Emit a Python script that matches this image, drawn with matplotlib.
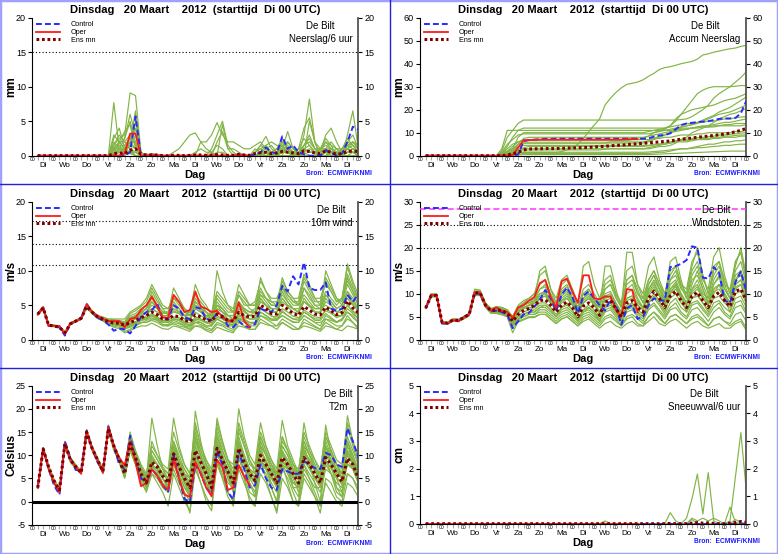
import numpy as np
import matplotlib.pyplot as plt
from matplotlib.lines import Line2D
from matplotlib.patches import Rectangle
import matplotlib.transforms as mtransforms

plt.rcParams['font.family'] = ['Liberation Sans', 'DejaVu Sans']


def series(txt):
    # 6-hourly values, one group of 4 per day: 06, 12, 18, 00 UTC
    return np.array(txt.replace('|', ' ').split(), dtype=float)


hours = np.arange(6, 361, 6)
days = hours / 24.0
day_names = ['Di', 'Wo', 'Do', 'Vr', 'Za', 'Zo', 'Ma', 'Di', 'Wo', 'Do', 'Vr', 'Za', 'Zo', 'Ma', 'Di']
title = 'Dinsdag   20 Maart    2012  (starttijd  Di 00 UTC)'

# ---------------- Neerslag / 6 uur ----------------
precip_oper = "0 0 0 0|0 0 0 0|0 0 0 0|0 0 0 0|0.3 3.2 3.2 0|0 0.2 0.1 0|0 0 0 0|0 0 0 0|0 0 0 0|0 0.2 0.1 0"
precip_control = "0 0 0 0|0 0 0 0|0 0 0 0|0 0 0 0|0 0.5 5.7 0|0 0.1 0.1 0|0 0 0 0|0 0 0 0|0 0 0 0|0 0 0 0|0.2 0.5 1.2 0.5|0.3 2.8 1 1.5|0.5 0.2 0 0|0 0.8 0.4 0|0.3 2 4.2 3.8"
precip_mean = "0 0 0 0|0 0 0 0|0 0 0 0|0 0 0.3 0.4|0.3 0.8 1 0.2|0.1 0.1 0.1 0|0 0.05 0.05 0|0.05 0.1 0.1 0.05|0.1 0.15 0.1 0.05|0.05 0.2 0.1 0.05|0.3 0.4 0.5 0.3|0.4 0.6 0.5 0.4|0.3 0.7 0.6 0.4|0.3 0.7 0.5 0.2|0.3 0.6 0.7 0.6"
precip_members = [
    "0 0 0 0|0 0 0 0|0 0 0 0|0 0 7.7 1|0.5 0.3 0 0|0 0 0 0|0 0 0 0|0 0 0 0|0 0 0 0|0 0 0 0|0 0.5 1 0|0 0 2 1|0.5 0 0 0|0 1 0.5 0|0 0.5 1 0.5",
    "0 0 0 0|0 0 0 0|0 0 0 0|0 0 1.5 2.5|3 9.1 8.7 0.5|0 0.2 0 0|0 0 0 0|0 0 0 0|0 0 0 0|0 0 0 0|0 0 0 0.5|1 2.5 1 0|0 0 0 0|0 0 0.5 1|0 1.5 2 1",
    "0 0 0 0|0 0 0 0|0 0 0 0|0 0 0 0.5|1 0.5 0 0|0 0 0 0|0 0.5 1 2|3 3.3 2 2|3 4.8 3 2|2 1.5 1 1|1.5 2 1 1.5|0.5 0.5 0.5 0|1 1 0.5 0.5|0.5 1 1 0.5|0.5 1 0.5 0",
    "0 0 0 0|0 0 0 0|0 0 0 0|0 0 2 1|2.5 6 3 0|0 0 0 0|0 0 0 0|0 0 0 0|0 0 4.5 1|0 0 0 0|0 0 0 0|0 0 0 0|0 3 8.2 2|0 0 1 0|0 0.5 0.5 0",
    "0 0 0 0|0 0 0 0|0 0 0 0|0 0 0.5 1|1.5 2.5 2 0|0.3 0 0 0|0 0 0 0|0 0 0 0|0 0 0 0|0 0 0 0|0 0 0 0|0 1 3.5 1|0.5 0 5 2|0 0.5 0 0|0 3 6.5 1",
    "0 0 0 0|0 0 0 0|0 0 0 0|0 0 1 2|1 1.5 1 0|0 0 0 0|0 0 0 0|0 0 0 0|0 0 0 0|0 0 0 0|0.5 1.5 2.8 1|0.5 1 0.5 0|0 0 0 0|0.5 3 4 2|0.5 1 0.5 0.5",
    "0 0 0 0|0 0 0 0|0 0 0 0|0 0 0 0|0.5 1.5 5 0|0 0 0 0|0 0 0 0|0 0 0 0|1 3 5 1.5|0.5 0 0 0|0 0 0 0|0 0.5 1 0|0 1.5 3 1|0 1 0 0|0.5 2 3 1",
    "0 0 0 0|0 0 0 0|0 0 0 0|0 0 2.5 4|1 0.5 0 0|0 0.3 0 0|0 0 0 0|0 0 0 0|0 0 0 0|0 0 0 0|1 0.5 0 0|0 2 1 0|0 0 0 0|1 2.5 1.5 0|0 0 0 0",
    "0 0 0 0|0 0 0 0|0 0 0 0|0 0 0 0|0 0.5 0.5 0|0 0 0 0|0 0 0 0|0 0 0 0|0 0 0 0|0 0 0 0|0 0.3 0.5 0|0 0 0 0|0.5 0.5 0 0|0 0.5 1 0.5|0 0 0.5 0.3",
    "0 0 0 0|0 0 0 0|0 0 0 0|0 0 1 0.5|0.5 2 6.5 0|0 0 0 0|0 0 0 0|0 0 2 1|0.5 0 0 0|0 0 0 0|0 0 0 0|0.5 1 1.5 0.5|1 4 5.5 2|1 1 0.5 0|1 2.5 1.5 1",
    "0 0 0 0|0 0 0 0|0 0 0 0|0 0 3 2|2 3 1.5 0|0 0 0 0|0 0 0 0|0 0 0 0|0 0 0 0|0 0 0 0|0 0 0 0|0 0 0 0|0 0 0 0|0 0 0 0|0 0 0 0",
    "0 0 0 0|0 0 0 0|0 0 0 0|0 0 1.5 3|2 1 0 0|0 0 0 0|0 0 0 0|0 0 0 0|0 2 3.5 1|1 0.5 0 0|0.5 1.5 1 0.5|0.5 1 0.5 0.5|0.5 1 0.5 0.5|0.5 0.8 0.5 0.3|0 1 0.5 0",
    "0 0 0 0|0 0 0 0|0 0 0 0|0 0 0.8 1.5|1.5 1 0.5 0|0 0 0 0|0 0 0 0|0 0.5 1 0.5|0.5 1.5 1 0|0 0 0 0|0 0 0.5 0.5|1 1.5 0.5 0|0.5 1.5 2 1|0.5 1 0.5 0|0.5 1.5 2 1.5",
    "0 0 0 0|0 0 0 0|0 0 0 0|0 0 0.5 2|3.5 4.5 1 0|0 0 0 0|0 0 0 0|0 0 0 0|0 0 0 0|0 0 0.2 0|0.5 1 1.5 0.5|1 2 1 0.5|1 2.5 1.5 0.5|0 0.5 0.5 0|1 2 1.5 0.5",
    "0 0 0 0|0 0 0 0|0 0 0 0|0 0 0.3 0.8|1 2 1 0|0 0 0 0|0 0 0 0|0 0 0 0|0 0 0 0|0 0 0 0|0 0.5 1.5 2|1.5 1 0.5 0|0 0.5 1 0.5|0.5 2 1.5 1|0.5 1 2 1",
    "0 0 0 0|0 0 0 0|0 0 0 0|0 0 1.2 1.8|2.5 5 2 0|0 0 0 0|0 0 0 0|0 0 0 0|0 0 0 0|0 0 0 0|0 0 0 0|0 0.5 1 0.5|0.5 1 1.5 0.5|1 2 1 0.5|0 0.5 1 0.5",
    "0 0 0 0|0 0 0 0|0 0 0 0|0 0 0.2 0.5|0.8 1.5 4 0.5|0 0 0 0|0 0 0 0|0 0 0 0|0 0 0 0|0 0 0 0|0.5 1 0.5 0|0.5 0.5 0.5 0|0.5 1.5 2.5 1|1 1.5 1 0.5|0.5 1 1.5 0.5",
    "0 0 0 0|0 0 0 0|0 0 0 0|0 0 1 1|1 2 2 0|0 0 0 0|0 0 0 0|0 0 0 0|0 0.5 0.5 0|0 0 0 0|0 0.5 0.5 0|0.5 1.5 2 1|0.5 1 0.5 0.5|0 1 2 1|1 1.5 1 0.5",
]

# ---------------- Accum neerslag ----------------
accum_oper = "0 0 0 0|0 0 0 0|0 0 0 0|0 0 0 0|0.3 3.5 6.7 6.8|6.9 7 7 7|7 7 7 7|7 7 7 7|7 7 7 7|7 7.2 7.2 7.2"
accum_control = "0 0 0 0|0 0 0 0|0 0 0 0|0 0 0 0|0 0.5 6.3 6.8|7 7.2 7.3 7.3|7.4 7.4 7.4 7.4|7.4 7.4 7.4 7.4|7.4 7.4 7.4 7.4|7.4 7.4 7.4 7.4|7.4 7.5 8.3 8.8|9 9.7 11.5 13.3|14 14.3 14.6 14.8|15 15.5 16 16.2|16.2 16.4 18.5 23.8"
accum_mean = "0 0 0 0|0 0 0 0|0 0 0 0|0 0 0 0.3|0.8 1.5 2.5 2.9|3 3 3.1 3.1|3.1 3.2 3.3 3.4|3.4 3.5 3.6 3.8|3.9 4.1 4.3 4.5|4.6 4.8 5 5.2|5.4 5.6 5.8 6|6.2 6.4 6.8 7.2|7.4 7.7 8 8.3|8.5 8.8 9.1 9.4|9.8 10.4 11 11.9"
accum_members = [
    "0 0 0 0|0 0 0 0|0 0 0 0|0 0 0 0.3|0.8 1.5 1.5 1.5|1.5 1.5 1.5 1.5|1.5 1.8 2.5 3.5|5 7.5 10.5 13.3|16 22 25 27.5|29.5 31 31.5 32|33 34.5 35.8 37.5|38.3 38.7 39.3 40|40.5 41 42 43.8|44.3 45 45.5 46|46.5 46.8 47.5 48",
    "0 0 0 0|0 0 0 0|0 0 0 0|0 0 2 8|11 14 15.5 15.5|15.5 15.5 15.5 15.5|15.5 15.5 15.5 15.5|15.5 15.5 15.5 15.5|15.5 15.5 15.5 15.5|15.5 15.5 15.5 15.5|15.5 15.5 15.5 15.5|15.5 15.5 15.5 15.7|16 17 18.5 20|22 25 27 28.5|30 32 34 36.5",
    "0 0 0 0|0 0 0 0|0 0 0 0|0 0 0.5 1.5|3 8 10 10|10 10 10 10|10 10 10 10|10 10 10 10|10 10 10 10|10 10 10 10|10 10.5 11 11.5|12 13 15 18|21 24 27 28.5|29.5 30 30 30|30 30.2 30.5 30.5",
    "0 0 0 0|0 0 0 0|0 0 0 0|0 0 1 3|5 6 6.5 6.5|6.5 6.5 6.5 6.5|6.5 6.5 6.5 6.5|6.5 6.5 6.5 6.5|6.5 6.5 6.5 6.5|6.5 6.5 7 7|7.5 8.5 10 11|11.5 13 16 18|19 20 20.5 21|21.5 22 23 24|24.5 25 26 27",
    "0 0 0 0|0 0 0 0|0 0 0 0|0 0 0.5 0.8|1.5 3.5 5.5 5.5|5.5 5.5 5.5 5.5|5.5 5.5 5.5 5.5|5.5 5.5 5.5 5.5|5.5 5.5 5.5 5.5|5.5 5.5 5.5 5.5|5.5 6 7 8|9 10 11 12.5|13 13.5 14 15|16 17 18 18.5|19 20 21 22",
    "0 0 0 0|0 0 0 0|0 0 0 0|0 0 1 4|8 11 12 12|12 12 12 12|12 12 12 12|12 12 12 12|12 12 12 12|12 12 12 12|12 12 12 12|12 12.5 13 13.5|14 14 14.5 14.5|15 15 15.5 16|16 16.5 16.8 17",
    "0 0 0 0|0 0 0 0|0 0 0 0|0 0 0.3 0.8|2 5 7.5 8|8 8 8 8|8 8 8 8|8 8 8 8|8 8 8 8|8 8 8 8|8 8.5 9 9.5|10 10.5 11 11.5|11.5 12 12 12.5|12.5 13 13 13.5|13.5 14 14 14",
    "0 0 0 0|0 0 0 0|0 0 0 0|0 0 0 0.5|1 2.5 3.5 4|4 4 4 4|4 4 4 4|4 4 4 4|4 4 4 4|4 4 4 4|4 4.3 4.6 5|5.5 6 6.5 7|7.2 7.5 7.8 8|8.3 8.5 9 9|9.3 9.5 9.8 10",
    "0 0 0 0|0 0 0 0|0 0 0 0|0 0 0 0.2|0.5 1 1.5 1.5|1.5 1.5 1.5 1.5|1.5 1.5 1.5 1.5|1.5 1.5 1.5 1.5|1.5 1.5 1.5 1.5|1.5 1.5 1.5 1.5|1.5 1.6 1.8 2|2.2 2.5 2.8 3|3 3.2 3.5 3.5|3.8 4 4.2 4.5|4.5 4.8 5 5",
    "0 0 0 0|0 0 0 0|0 0 0 0|0 0 0 0|0.1 0.3 0.5 0.5|0.5 0.5 0.5 0.5|0.5 0.5 0.5 0.5|0.5 0.5 0.5 0.5|0.5 0.5 0.5 0.5|0.5 0.5 0.5 0.5|0.5 0.5 0.6 0.7|0.8 0.9 1 1.1|1.2 1.3 1.4 1.5|1.6 1.7 1.8 1.9|2 2 2 2",
    "0 0 0 0|0 0 0 0|0 0 0 0|0 0 3 11|11 11 11 11|11 11 11 11|11 11 11 11|11 11 11 11|11 11 11 11|11 11 11 11|11 11 11 11|11 11 11.5 12|12 12 12.5 12.5|12.5 12.5 13 13|13 13 13 13.5",
    "0 0 0 0|0 0 0 0|0 0 0 0|0 0 0.5 1|1.5 2.5 3 3|3 3 3 3|3 3 3 3|3 3 3 3|3 3 3 3|3 3 3 3|3 3 3.5 4|4 4.5 5.5 7|8 10 11 12|13 14.5 16 17|18 18.5 19.5 20.5",
    "0 0 0 0|0 0 0 0|0 0 0 0|0 0 0.2 0.5|1 2 2.5 2.5|2.5 2.5 2.5 2.5|2.5 2.5 2.5 2.5|2.5 2.5 2.5 2.5|2.5 2.8 3 3|3 3 3 3|3 3.5 4 4.5|5 5.5 6 6.5|6.5 7 7 7.5|7.5 8 8 8.5|8.5 8.8 9 9",
    "0 0 0 0|0 0 0 0|0 0 0 0|0 0 0.5 2|4 6 7 7|7 7 7 7|7 7 7 7|7 7 7 7|7 7 7 7|7 7 7 7|7 7 7.5 7.5|8 8 8.5 9|9 9 9.5 9.5|10 10 10 10|10 10.5 10.5 11",
    "0 0 0 0|0 0 0 0|0 0 0 0|0 0 1 2|3 5 5.5 5.5|5.5 5.5 5.5 5.5|5.5 5.5 5.5 5.5|5.5 5.5 5.5 5.5|5.5 5.5 6 6|6 6 6 6|6 6.5 7.5 8.5|9 10 10.5 11|11.5 12 12.5 13|13 13.5 14 14.5|14.5 15 15.5 16",
    "0 0 0 0|0 0 0 0|0 0 0 0|0 0 0.5 1.5|2.5 4 4.5 4.5|4.5 4.5 4.5 4.5|4.5 4.5 4.5 4.5|4.5 4.5 4.5 4.5|4.5 4.5 4.5 4.5|4.5 4.5 4.5 4.5|4.5 4.5 5 5|5 5.5 6 6|6 6.5 7 7|7 7.5 7.5 8|8 8 8.5 8.5",
    "0 0 0 0|0 0 0 0|0 0 0 0|0 0 1.5 5|7 9 9.5 9.5|9.5 9.5 9.5 9.5|9.5 9.5 9.5 9.5|9.5 9.5 9.5 9.5|9.5 9.5 9.5 9.5|9.5 9.5 9.5 9.5|9.5 9.5 10 10.5|11 11.5 12 12.5|13 13.5 14.5 15.5|16.5 17.5 19 20|21 22.5 24 25.5",
    "0 0 0 0|0 0 0 0|0 0 0 0|0 0 0 0|0.2 0.5 1 1|1 1 1 1|1 1 1 1|1 1 1 1|1 1 1 1|1 1 1 1|1 1 1.2 1.5|1.5 2 2.5 3|3 3.5 4 4.5|5 5 5.5 6|6 6.5 6.5 7",
]

# ---------------- 10m wind ----------------
wind_oper = "3.7 4.7 2 2|2 0.8 2.4 2.7|3 5.1 4 3.5|3 2.7 2.7 2.7|1.8 3 3.2 4.3|5 6.2 4.8 3.2|3.2 6.5 5.5 4|4.3 7 4.8 4.5|4 4.2 3.3 2.7|2.8 5.4 2.7 1.8"
wind_control = "3.7 4.7 2 2|1.8 0.6 2.3 2.7|3.2 5.2 4 3.2|2.8 2.2 1.3 1.6|1.5 0.9 2 3.3|4 4.3 5.2 3|3 5 4.5 3.2|3 4.7 4.5 3|2.8 3.8 3.5 2|1.8 2.7 2 1.8|2.3 4.5 4.2 4|5 7.8 7 9.2|8 11.2 7.5 7.2|7.2 8.3 4.5 4.2|4.5 6.5 5.5 6.6"
wind_mean = "3.7 4.6 2.1 2|1.8 1 2.3 2.7|3.1 4.8 4 3.3|3 2.6 2.4 2.4|2.1 2.5 2.8 3.2|3.5 4 3.6 3|3 3.5 3.3 2.8|2.6 3.6 3.3 2.9|2.7 3.7 3.3 2.8|2.7 4 3.5 3.3|3.4 5 4.5 3.8|3.7 5 4.4 3.8|3.5 4.8 4.3 3.7|3.6 4.7 4.2 3.6|3.9 5.6 4.6 3.9"
wind_members = [
    "3.8 4.8 2.2 2.1|1.9 1.2 2.4 2.8|3.2 5.3 4.2 3.4|3.2 2.8 2.6 2.5|2.5 3.5 3.8 4.5|5 6.5 5 4|4 5 4.5 3.5|3 5.5 4.5 4|3.5 6 5 4|4 6.5 5 5|5 7.5 6 5|5 8.5 7 6|6 9.5 8 6|5 7 6 5|6 8.5 7 6",
    "3.6 4.5 2 1.9|1.7 0.9 2.2 2.6|3 4.6 3.8 3.2|2.8 2.4 2.2 2.2|1.8 2 2.3 2.5|2.5 3 2.8 2.2|2 2.5 2.3 2|1.5 2.5 2.2 1.8|1.5 2.5 2.2 1.8|1.5 3 2.5 2|2 3.5 3 2.5|2 3 2.5 2|1.5 3 2.5 2|1.5 2.5 2 1.5|2 3.5 2.5 1.5",
    "3.7 4.7 2.1 2|1.8 1 2.3 2.8|3.1 4.9 4.1 3.4|3.1 2.7 2.5 2.4|2.2 3 3.5 4|4.5 7 5.5 4.5|3.5 6.5 5.5 4|3.5 6 5 4|3 5 4 3.5|3 5.5 4.5 4|4.5 7 6 5|5 9 7 6|5 7.5 6.5 5|5 8.5 7 5.5|6 10.5 8 6",
    "3.7 4.6 2.1 2.1|1.9 1.1 2.3 2.7|3.1 4.7 4 3.3|2.9 2.5 2.3 2.3|1.8 2.2 2.5 2.8|3 3.5 3 2.5|2.5 3 3 2.5|2 3 3 2.5|2.5 4 3.5 3|2.5 4 3.5 3|3 4.5 4 3.5|3 4 3.5 3|3 4 3.5 3|3 4.5 4 3.5|3.5 5 4 3",
    "3.8 4.7 2.1 2|1.8 1 2.2 2.6|3 4.8 4 3.2|3 2.6 2.5 2.6|2.5 3 3.2 3.5|4 5 4.5 3.5|3.5 5 4 3.5|4 8 6 5|3.5 5 4.5 3.5|3 4.5 4 3.5|3.5 5.5 5 4|4 6 5 4.5|4 7.5 6 5|4.5 6.5 5.5 4.5|5 7 6 4.5",
    "3.6 4.6 2 2|1.8 0.9 2.3 2.7|3.1 4.7 3.9 3.2|2.9 2.5 2.3 2.3|2 2.3 2.5 2.8|3 3.5 3 2.5|2.5 3 2.8 2.2|2 2.5 2.5 2|2 3 2.5 2|2 3.5 3 2.5|2.5 4 3.5 3|3 3.5 3 2.5|2.5 3.5 3 2.5|2 3.5 3 2.5|3 4 3.5 2.5",
    "3.7 4.6 2.1 2|1.8 1 2.3 2.7|3.1 4.8 4 3.3|3 2.6 2.4 2.4|2.1 2.6 3 3.5|4 5.5 4.5 3.5|3 5.5 4.5 3.5|3 4 3.5 3|3 10 7 5|4 5.5 4.5 4|4 6 5 4|4 7 5.5 4.5|4 6 5 4|4 6 5 4|4 7 5.5 4.5",
    "3.7 4.5 2.1 2|1.8 1 2.4 2.7|3.1 4.7 3.9 3.3|3 2.6 2.4 2.4|2.1 2.4 2.6 2.9|3.2 3.8 3.3 2.8|2.8 3.3 3.2 2.7|2.4 3.3 3 2.6|2.4 3.2 3 2.5|2.4 3.7 3.2 3|3 4.5 4 3.4|3.3 4.5 4 3.4|3.2 4.3 3.8 3.3|3.2 4.2 3.8 3.2|3.5 5 4.2 3.5",
    "3.7 4.8 2.2 2|1.8 1.1 2.3 2.7|3.2 5 4.1 3.4|3.1 2.7 2.5 2.4|2.2 2.8 3.2 3.8|4.5 6 5 4|4 7.5 6 4.5|3.5 5 4.5 3.5|3 4.5 4 3.5|3.5 6.5 5.5 4.5|4 9 7 5.5|5 6.5 5.5 4.5|4 5.5 5 4|4 10 8 6|5 9 7 5",
    "3.6 4.6 2.1 2|1.8 1 2.3 2.7|3 4.7 3.9 3.2|2.8 2.3 2.1 2.1|1.6 1.8 2.2 2.5|2.5 2.8 2.5 2|2 2.3 2 1.8|1.5 2 2 1.5|1.3 2.2 2 1.5|1.2 2 1.8 1.5|1.5 2.5 2.2 2|2 2.5 2 1.5|1.5 2 1.8 1.5|1.2 2 1.8 1.5|1.3 2 1.8 1.5",
    "3.7 4.7 2.1 2|1.8 1 2.3 2.7|3.1 4.8 4 3.3|3 2.8 2.8 2.7|2.5 3.2 3.5 3.8|4 4.5 4 3.5|3.5 4 3.8 3|3 4.5 4 3.5|3.5 5 4.5 3.5|3.5 5 4.5 4|4 5.5 5 4.5|4.5 6 5 4.5|4.5 5.5 5 4.5|4.5 5 4.5 4|4.5 6 5 4.5",
    "3.7 4.6 2.1 2|1.8 1 2.3 2.7|3.1 4.7 4 3.3|3 2.5 2.3 2.3|2 2.3 2.6 3|3.2 3.6 3.2 2.6|2.6 3 2.8 2.4|2.2 3 2.8 2.4|2.2 3 2.6 2.2|2.2 3 2.8 2.5|2.5 3.5 3.2 2.8|2.8 3.5 3 2.6|2.5 3.5 3 2.5|2.5 3 2.8 2.5|2.8 4 3.2 2.5",
    "3.8 4.7 2.2 2.1|1.9 1.1 2.4 2.8|3.2 5 4.1 3.4|3.2 3 2.9 2.8|2.6 3.8 4.2 4.8|5.5 7.5 6 4.5|4.5 6 5 4|4 6.5 5.5 4.5|4 7 6 5|4.5 8 6.5 5|5 6.5 6 5.5|5.5 7.5 6.5 5.5|5 8.5 7 5.5|5.5 9 7.5 6|5.5 9.5 7.5 6",
    "3.6 4.5 2 1.9|1.7 0.9 2.2 2.6|3 4.6 3.8 3.1|2.8 2.3 2 1.8|1.2 1.5 2 2.4|2.8 3.2 2.8 2.2|2.2 2.8 2.5 2|1.8 2.8 2.5 2|2 3.5 3 2.5|2 3.2 2.8 2.2|2.5 4 3.5 3|2.8 4.2 3.5 3|2.8 4 3.5 2.8|2.8 3.8 3.2 2.6|3 4.5 3.8 3",
    "3.7 4.6 2.1 2|1.8 1 2.3 2.7|3.1 4.8 4 3.3|3 2.7 2.6 2.6|2.4 3.2 3.5 4|4.5 5.5 4.5 3.8|3.8 4.5 4 3.5|3.5 5 4.2 3.5|3.2 5.5 4.5 3.5|3.5 5 4.2 3.5|4 6.5 5.5 4.5|4.5 7.5 6 5|5 6.5 5.5 4.5|4.5 6.5 5.5 4.5|5 8 6.5 5",
    "3.7 4.7 2.1 2|1.8 1 2.3 2.7|3.1 4.9 4 3.3|3 2.5 2.2 2|1.5 2 2.4 2.8|3.5 4.5 4 3.2|3.2 4.2 3.8 3|2.8 4.5 4 3.2|3 4.5 4 3|3 5 4.2 3.5|3.5 6 5 4|4 5.5 4.8 4|3.8 5.5 4.8 4|3.8 5.5 5 4|4 6.5 5.2 4",
    "3.6 4.5 2 2|1.8 0.9 2.2 2.6|3 4.6 3.8 3.1|2.7 2.2 1.8 1.6|1 1.3 1.7 2|2 2.4 2 1.6|1.5 2 1.8 1.5|1.2 2 1.8 1.3|1 1.8 1.5 1.2|1 2.5 2 1.5|1.5 3 2.5 2|1.5 2.5 2 1.5|1.5 2.5 2.2 1.8|1.5 3 2.5 2|2 3 2.5 1.8",
    "3.8 4.8 2.2 2.1|1.9 1.1 2.4 2.8|3.2 5.1 4.2 3.5|3.3 3 3 3|3 4 4.5 5|6 8 6.5 5|4.5 6 5.5 4.5|4 5.5 5 4|3.5 6.5 5.5 4.5|4 7 6 5|5.5 8.5 7 6|6 8 6.5 5.5|5.5 9 7.5 6|6 8 7 5.5|6 11 8.5 6.5",
]

# ---------------- Windstoten ----------------
gust_oper = "7 9.7 9.7 3.8|3.5 4.3 4 4.8|5.5 10.3 10.3 7.5|6.3 7 6.3 6|4.8 7 7.5 8.5|9.3 12.3 13 9.3|7 12.7 13.3 10.5|8 14 14 9|8.8 9.4 9.4 6.5|5 11 10.8 6"
gust_control = "6.8 9.5 9.5 3.5|3.5 4.2 4 5|5.5 10 10 7.5|6.2 6.3 6 5.5|2.5 4 5.5 5.8|7.2 8.7 10.8 9|6.3 9.8 11.3 9.3|5.8 9.5 10.5 9|7.5 6.3 8.8 7.5|3.3 6.8 7.5 4.5|5 7.5 9 8.5|8.5 15.8 16 16.5|17.3 20.3 20 13.5|13.3 15.8 14.5 8.5|8 12.5 14.8 10.5"
gust_mean = "6.9 9.6 9.6 3.8|3.6 4.3 4.2 4.8|5.5 10.2 10.2 7.5|6.3 6.5 6.3 5.8|4 5.5 6.3 6.8|7.5 8.5 8.7 7.5|6 7.5 8.2 7|5 7.3 8 7|5.3 8.2 8.5 6.8|5 8 8.5 7|6 9 10.5 9|7 9.5 10.5 8.5|7 9.5 10.3 8.5|7 9.5 10.3 8.5|7.2 10.5 11 8.5"
gust_members = [
    "7 10 10 4|3.8 4.5 4.3 5|5.8 11 10.8 8|6.8 7.2 7 6.5|5 7 8 9|10 12 13 10|8 11 12 9|7 10 11 9|8 12 13 10|8 12 13 10|9 13 15 12|10 14 16 12|11 17 19 14|10 14 16 12|11 17 19 13",
    "6.8 9.3 9.3 3.5|3.4 4 4 4.5|5.2 9.6 9.6 7|5.8 6 5.8 5.3|3.5 4.5 5 5.5|5.5 6 6 5|4 5 5.5 4.5|3.5 5 5.5 4.5|3.5 5 5.5 4.5|3 5 5.5 4.5|3.5 5 6 5|3.5 5 5.5 4.5|3.5 4.5 5 4|3 4.5 5 4|3 4 4.5 2.5",
    "6.9 9.7 9.7 3.9|3.6 4.4 4.3 4.9|5.6 10.4 10.4 7.7|6.5 7 6.8 6.2|4.5 6.5 7.5 8|9 11 11.5 9|7 10 11 8.5|6 9 10 8|7 16 16 11|7 11 12 9|7 11 12.5 10|8 12 13 10|8 11 13 10|9 16 17 12|9 14 15 11",
    "6.9 9.5 9.5 3.7|3.5 4.2 4.1 4.7|5.4 10 10 7.3|6 6.2 6 5.5|3.5 5 5.5 6|6.5 7.5 7.5 6.5|5 6.5 7 6|4.5 6.5 7 6|4.5 7 7.5 6|4.5 7 7.5 6|5 8 9 7.5|5.5 8 9 7|6 8 8.5 7|5.5 8 8.5 7|6 9 9.5 7",
    "7 9.8 9.8 4|3.7 4.4 4.2 4.8|5.5 10.3 10.3 7.6|6.4 6.8 6.6 6|4.2 6 7 7.5|8 10 10 8|7 9 10 8|6 9 10 8.5|6 10 10.5 8|6 13 14 10|8 12 14 11|9 17 18 13|9 13 14 11|8 12 14 11|9 13 14 10",
    "6.8 9.5 9.5 3.8|3.6 4.3 4.2 4.8|5.5 10.1 10.1 7.4|6.1 6.3 6.1 5.6|3.8 5 5.5 6|6 7 7 6|5 6 6.5 5.5|4 6 6.5 5.5|4 6.5 7 5.5|4 6.5 7 5.5|4.5 7 8 6.5|5 7 8 6|5 7.5 8 6.5|5 7 8 6|5 8 8.5 6",
    "6.9 9.6 9.6 3.8|3.6 4.3 4.2 4.8|5.5 10.2 10.2 7.5|6.3 6.6 6.4 5.9|4.3 6 7 7.5|8.5 10 10.5 8.5|7 9.5 10.5 8.5|5.5 8 9 8|6 9 9.5 7.5|6 9 9.5 8|7 11 13 11|8 11 12 10|8 12 15 11|8 11 12 10|8 12 13 10",
    "6.9 9.6 9.6 3.8|3.6 4.3 4.2 4.8|5.5 10.2 10.2 7.5|6.2 6.4 6.2 5.7|3.8 5.2 6 6.5|7 8 8 7|5.5 7 7.5 6.5|4.5 6.5 7.5 6.5|5 7.5 8 6.5|4.5 7.5 8 6.5|5.5 8.5 10 8.5|6.5 9 10 8|6.5 9 9.5 8|6.5 9 9.5 8|7 10 10.5 8",
    "6.8 9.4 9.4 3.6|3.4 4.1 4 4.6|5.3 9.8 9.8 7.2|5.8 5.8 5.5 5|1.5 4 4.5 5|5 5.5 5.5 4.5|3.5 4.5 5 4|3 4 4.5 3.5|2.5 3.5 4 3|2.5 3.5 4 3|3 4 5 3.5|3 4 4.5 3.5|2.5 3.5 4 3|2.5 3 3.5 2.5|2.5 3.5 4 2",
    "7 9.7 9.7 3.9|3.7 4.5 4.4 5|5.6 10.5 10.5 7.8|6.6 7 6.8 6.3|4.5 7 8 8.5|9 15 16 11|8 12 13 10|7 11 12 10|8 11 12 9|7 19 19 12|9 13 15 12|9 13 14 11|10 16 20 14|10 15 17 13|10 16 20 14",
    "6.9 9.6 9.6 3.8|3.6 4.3 4.2 4.8|5.5 10.2 10.2 7.5|6.3 6.5 6.3 5.8|3.8 5.8 6.8 7|7 9 9.5 8|6.5 8 9 7.5|5.5 8 9 7.5|5.5 9 9.5 7.5|5.5 9 9.5 7.5|6.5 10 11.5 9.5|7.5 10.5 11.5 9|7.5 10.5 11.5 9|7.5 11 12 9.5|8 12 13 9.5",
    "6.8 9.5 9.5 3.7|3.5 4.2 4.1 4.7|5.4 10 10 7.4|6 6.2 6 5.5|3.2 4.5 5.5 6|6 7 7.5 6.5|5 7 8 6.5|4 6 7 6|4 7 8 6|4 7 8 6|5 8 9.5 8|6 10 12 9|6 9 10 8|6 10 12 9|6 11 12 8",
    "6.9 9.6 9.6 3.9|3.7 4.4 4.3 4.9|5.6 10.3 10.3 7.6|6.5 6.9 6.7 6.2|4.6 6.5 7.5 8|8.5 11 12 9.5|7.5 10.5 11.5 9|6.5 10 11 9|7 11 12 9.5|7 13 14 11|8 12 14 11|8.5 13 15 11.5|9 14 16 12|9 13 15 11|9 15 17 12",
    "6.8 9.5 9.5 3.7|3.5 4.2 4.1 4.7|5.4 10 10 7.3|6 6 5.7 5.2|3 4.3 5 5.5|5.5 6.5 6.5 5.5|4.5 5.5 6 5|4 5.5 6 5|4 6 6.5 5|3.5 6 6.5 5|4 6.5 7.5 6|4.5 6.5 7 5.5|4.5 6.5 7 5.5|4 6 7 5.5|4.5 7 7.5 5.5",
    "7 9.7 9.7 3.9|3.6 4.4 4.3 4.9|5.5 10.3 10.3 7.6|6.4 6.7 6.5 6|4.4 6.2 7 7.5|8 9.5 10 8.5|6.5 8.5 9.5 8|5.5 8.5 9.5 8|6 9.5 10 8|6 10 11 8.5|7 10.5 12 10|7.5 11 12.5 9.5|8 11 12 9.5|8 12 13.5 10|8 13 15 11",
    "7 9.8 9.8 4|3.7 4.5 4.4 5|5.7 10.6 10.6 7.9|6.7 7.2 7 6.5|5 7.5 8.5 9|10 14 15 11|9 13 14 11|8 16 17 12|9 13 14 10|8 15 16 12|10 16 18 13|10 15 16 12|10 15 17 13|11 18 20 14|10 17 19 13",
    "6.8 9.4 9.4 3.6|3.4 4.1 4 4.6|5.3 9.8 9.8 7.1|5.8 5.7 5.4 5|2.5 3.8 4.3 4.8|4.8 5.5 5.5 4.5|3.5 4.5 5 4|3 4.5 5 4|3 4.5 5 4|3 4.5 5 3.5|3 5 6 4.5|3.5 5 5.5 4.5|3.5 5 5.5 4.5|3 4.5 5 4|3.5 5.5 6 4",
    "6.9 9.6 9.6 3.8|3.6 4.3 4.2 4.8|5.5 10.2 10.2 7.5|6.3 6.6 6.4 5.9|4.2 6 7 7.4|8 9 9.5 8|6.5 8.5 9 7.5|5.5 8 9 7.5|6 8.5 9 7|5.5 8.5 9 7.5|6.5 9.5 11 9.5|7.5 10 11 9|7.5 10 11 9|7.5 10.5 11 9|8 11.5 12 9",
]

# ---------------- T2m ----------------
t2m_oper = "3 11.5 7 4|2 12.5 9 7.5|6 15 11.5 9|6.2 16 12 9.5|7.8 13 8.5 3.3|4 7 5.5 3.5|2.6 9.2 5 1.5|1 8.5 6 3|1.2 9 7.5 2.5|3 7.8 5.5 3.5"
t2m_control = "3 11.5 7 3.5|1.5 13 9.5 6.8|6.8 15.3 11.5 8.5|6.5 16.2 12 8|7 14.2 9 5|4 7 5.5 3.5|2 10 5 0.5|0 8 6 3|1.5 11 8 2|0.5 11 7 3|3.5 8 5 3|2.5 7 6.5 6|6 8.8 8 7.2|7 10.5 10 8|7.5 15.8 13 9.5"
t2m_mean = "3 11.3 7.5 4.5|2.5 12.5 9 7.5|6.2 15 11.5 9|6.5 15.8 12 9|6 12.5 9.5 6|4 8.5 7.5 5.5|4 10.3 7.5 5|3 11 8.5 6|3 11.5 9 6.5|4 11.5 8.5 6|4.5 10 8 6|4 9.5 8 6|4 9.5 8 6|4 9.5 8 6|4.3 9.3 8 5"
t2m_members = [
    "3 11.5 7.5 4.5|2.5 13 9.5 8|6.5 15.5 12 9.5|7 16.5 12.5 9.5|7 15 11 8|6 12 10 8|7 18 12 8|6 16 12 9|7 17 13 9|7 15 12 8|7 14 11 8|6 13 11 8|7 14 11 9|7 15 12 9|8 17 13 10",
    "3 11 7 4|2 12 8.5 7|6 14.5 11 8.5|6 15 11 8.5|5 11 8 4|2.5 6 5 3|2 7 4 1.5|-2.5 7 4 1|-1 8 5 2|0 7 4 1|-1 6 4 1|-2.5 5 3 0|-1 5 3 1|-1 4 2 0|-1 4 3 1",
    "3.2 11.2 7.8 4.8|2.7 12.7 9 7.8|6.4 15.2 11.6 9.2|6.8 16 12.2 9.4|6.5 13.5 10 6.5|4 9 8 6|5 12 9 6|4 13 10 7|3 12 9 6|4 14 10 7|6 12 10 7|5 11 9 7|6 12 10 8|5 11 9 7|5 10 8 5",
    "2.8 11 7.2 4.2|2.2 12.3 8.8 7.2|6 14.8 11.3 8.8|6.3 15.5 11.8 8.8|6 12 9 5.5|3 7 6 4|3 9 6 3|1 10 7 4|2 10 8 5|3 9 7 5|3 8 7 5|4 10 8 6|3 8 6 4|2 7 6 3|2 6 5 3",
    "3 11.5 7.6 4.4|2.4 12.8 9.2 7.6|6.2 15.3 11.7 9.1|6.6 16.2 12.1 9.2|6.2 14 10.5 7|5 11 9 7|6 13 10 7|5 14 11 8|6 15 11 8|5 12 9 6|4 10 8 5|3 9 7 4|4 11 9 7|6 13 10 8|7 14 11 8",
    "3.1 11.3 7.4 4.6|2.6 12.4 9 7.4|6.1 15 11.4 9|6.4 15.7 11.9 9|5.8 12.5 9.3 6|3.5 8 7 5|3.5 10 7 4|2 11 8 5|4 13 10 7|5 13 10 7|5 11 9 6|3 8 7 5|2 7 5 3|3 9 7 5|4 11 9 6",
    "3 11.4 7.5 4.5|2.5 12.6 9.1 7.5|6.3 15.1 11.5 9|6.5 15.9 12 9.1|6.3 13 9.8 6.5|5 18 12 7|4 11 8 5|3 19.5 13 8|5 18 13 9|8 20 14 10|8 17 12 9|7 17.5 12 9|6 17 11 8|5 16.5 10 7|6 18.5 13 9",
    "2.9 11.1 7.3 4.3|2.3 12.2 8.7 7.3|6 14.9 11.2 8.9|6.3 15.4 11.7 8.8|5.5 11.5 8.8 5|3 7.5 6.5 4|3 8 5 2|0 9 6 3|1 9 6 2|0 8 5 2|1 8 6 3|0 7 5 2|-1 6 4 1|-2.5 5 4 1|0 6 5 2",
    "3 11.2 7.6 4.6|2.5 12.5 9 7.6|6.2 15 11.5 9.1|6.5 15.8 12 9|6 12.8 9.6 6|4 9 8 6|5 13 9 6|5 15 11 8|4 11 9 6|3 11 8 5|5 13 10 7|6 14 11 8|5 13 10 7|4 12 9 6|5 12 9 6",
    "3 11.3 7.5 4.5|2.4 12.4 8.9 7.4|6.2 15 11.4 9|6.5 15.7 11.9 9|6 12 9 5.5|3.5 7 6 4|2 8 6 3|2 9 7 4|2 12 9 5|2 10 7 4|2 9 7 4|2 8 6 3|3 10 8 5|3 8 6 4|3 8 7 4",
    "3 11.4 7.4 4.4|2.6 12.6 9.1 7.6|6.3 15.2 11.6 9.2|6.6 16 12.1 9.2|6.6 14 10.5 7.5|5 11 9 7|5 12 9 7|5 13 10 7|4 14 11 8|6 16 12 9|6 14 11 8|5 12 10 7|6 13 10 7|5 14 11 8|5 13 10 6",
    "3 11.2 7.4 4.5|2.5 12.4 8.9 7.5|6.1 14.9 11.4 8.9|6.4 15.6 11.8 8.9|5.8 12 9.2 5.8|3.5 8 7 5|3 10 7 4|2 10 7 4|1 9 7 4|3 12 9 6|4 9 7 5|4 9 7 4|3 9 7 5|4 10 8 5|2 9 7 4",
    "3 11.4 7.6 4.6|2.4 12.3 8.8 7.3|6 14.8 11.3 8.8|6.3 15.3 11.6 8.6|5.2 11 8 4.5|2 6 4 2|-1 6 3 0|-2 8 4 0|-2 9 5 1|-1 10 5 0|-1 9 5 1|-2 8 4 0|0 8 5 2|-1 9 6 2|1 11 8 5",
    "3.1 11.6 7.7 4.7|2.7 12.9 9.3 7.8|6.5 15.4 11.8 9.3|6.8 16.4 12.3 9.4|6.8 14.5 10.8 7.5|5.5 13 10 7.5|6 15 11 8|6 17 12 9|6 16 12 9|6 17 13 9|7 15 12 9|6 14 11 8|6 15 12 9|6 14 11 8|6 16 12 8",
    "3 11.3 7.5 4.5|2.5 12.5 9 7.5|6.2 15 11.5 9|6.5 15.8 12 9|6 13 9.8 6.2|4.5 9.5 8 6|4.5 11 8 5.5|3.5 12 9 6.5|3.5 12.5 9.5 7|4.5 12.5 9 6.5|5 11 8.5 6.5|4.5 10.5 8.5 6.5|4.5 10.5 8.5 6.5|4.5 10.5 8.5 6.5|5 10.5 8.5 5.5",
    "3 11.2 7.4 4.4|2.4 12.4 8.9 7.4|6.1 14.9 11.4 8.9|6.4 15.7 11.9 8.9|5.9 12 9.2 5.8|3.5 7.5 7 5|3.5 9.5 7 4.5|2.5 10 8 5.5|2.5 10.5 8.5 6|3.5 10.5 8 5.5|4 9 7.5 5.5|3.5 8.5 7.5 5.5|3.5 8.5 7.5 5.5|3.5 8.5 7.5 5.5|3.5 8 7.5 4.5",
    "3 11.3 7.5 4.5|2.5 12.5 9 7.5|6.2 15 11.5 9|6.5 15.8 12 9|6.2 13.5 10 6.5|4.5 10 8 5|3 12 8 4|1 14 10 5|2 14 10 6|2 13 9 4|1 12 8 3|0 11 7 3|1 12 8 4|0 12 8 3|1 13 9 4",
    "3 11.4 7.5 4.5|2.5 12.6 9 7.5|6.2 15.1 11.5 9|6.5 15.9 12 9|6 12.5 9.5 6|4 9 8 6|5 11 8 6|4 12 9 7|4 10 8 6|5 12 9 7|6 13 10 8|5 12 10 7|5 11 9 7|6 12 10 8|6 13 10 7",
]

# ---------------- Sneeuwval / 6 uur ----------------
snow_oper = "0 0 0 0|0 0 0 0|0 0 0 0|0 0 0 0|0 0 0 0|0 0 0 0|0 0 0 0|0 0 0 0|0 0 0 0|0 0 0 0"
snow_control = "0 0 0 0|0 0 0 0|0 0 0 0|0 0 0 0|0 0 0 0|0 0 0 0|0 0 0 0|0 0 0 0|0 0 0 0|0 0 0 0|0 0 0 0|0 0 0 0|0 0 0 0|0 0 0 0|0 0 0 0"
snow_mean = "0 0 0 0|0 0 0 0|0 0 0 0|0 0 0 0|0 0 0 0|0 0 0 0|0 0 0 0|0 0 0 0|0 0 0 0|0 0 0 0|0 0 0 0|0 0.01 0 0|0 0.02 0.04 0.02|0.03 0.01 0 0|0.02 0.04 0.08 0.05"
snow_members = [
    "0 0 0 0|0 0 0 0|0 0 0 0|0 0 0 0|0 0 0 0|0 0 0 0|0 0 0 0|0 0 0 0|0 0 0 0|0 0 0 0|0 0 0 0|0 0 0 0|0.2 0.9 1.8 0.35|1.85 0.1 0 0|0 0 0 0",
    "0 0 0 0|0 0 0 0|0 0 0 0|0 0 0 0|0 0 0 0|0 0 0 0|0 0 0 0|0 0 0 0|0 0 0 0|0 0 0 0|0 0 0 0|0 0 0 0|0 0 0 0|0 0 0 0|0.6 0.05 0 0",
    "0 0 0 0|0 0 0 0|0 0 0 0|0 0 0 0|0 0 0 0|0 0 0 0|0 0 0 0|0 0 0 0|0 0 0 0|0 0 0 0|0 0 0 0|0 0 0 0|0 0 0 0|0 0 0 0|0.1 1.7 3.3 1.2",
    "0 0 0 0|0 0 0 0|0 0 0 0|0 0 0 0|0 0 0 0|0 0 0 0|0 0 0 0|0 0 0 0|0 0 0 0|0 0 0 0|0 0 0 0|0 0.4 0.1 0|0 0.15 0 0|0 0 0 0|0 0 0 0",
    "0 0 0 0|0 0 0 0|0 0 0 0|0 0 0 0|0 0 0 0|0 0 0 0|0 0 0 0|0 0 0 0|0 0.1 0 0|0 0 0 0|0 0 0 0|0 0 0 0|0 0 0 0|0 0 0 0|0 0 0 0",
    "0 0 0 0|0 0 0 0|0 0 0 0|0 0 0 0|0 0 0 0|0 0 0 0|0 0 0 0|0 0 0 0|0 0 0 0|0 0 0 0|0 0 0 0|0 0 0 0|0 0.2 0.1 0.2|0.1 0.2 0.1 0|0 0.15 0.05 0",
]

GREEN = '#82b446'
BLUE = '#2a2aff'
RED = '#ff1a1a'
DARKRED = '#800000'

W, H = 778, 554
fig = plt.figure(figsize=(W / 100, H / 100), dpi=100)


def axes_px(x0, y0, x1, y1):
    return fig.add_axes([x0 / W, 1 - y1 / H, (x1 - x0) / W, (y1 - y0) / H])


def panel(ax, members, control, oper, mean, ylo, yhi, ystep, ylabel, var,
          dotted=(), magenta=None, zero_line=False):
    for m in members:
        v = series(m)
        ax.plot(days, v, color=GREEN, lw=0.85, zorder=2)
    c = series(control)
    o = series(oper)
    e = series(mean)
    ax.plot(days[:len(c)], c, color=BLUE, lw=1.4, ls=(0, (3, 1.6)), zorder=4, label='Control')
    ax.plot(days[:len(o)], o, color=RED, lw=1.3, zorder=5, label='Oper')
    ax.plot(days[:len(e)], e, color=DARKRED, lw=2.2, ls=(0, (0.9, 0.9)), zorder=6, label='Ens mn')
    for lev in dotted:
        ax.axhline(lev, color='black', lw=0.8, ls=(0, (1, 2)), zorder=3)
    if magenta is not None:
        ax.axhline(magenta, color='#ff33ff', lw=1.1, ls=(0, (4, 2)), zorder=3)
    if zero_line:
        ax.axhline(0, color='black', lw=2.2, zorder=7)

    ax.set_xlim(0, 15)
    ax.set_ylim(ylo, yhi)
    yt = np.arange(ylo, yhi + ystep / 2, ystep)
    ax.set_yticks(yt)
    ax.set_yticklabels([f'{v:g}' for v in yt])
    ax.tick_params(axis='y', direction='out', length=3, width=0.8, labelsize=6.5,
                   left=True, right=True, labelleft=True, labelright=True, pad=1.5)
    ax.set_xticks(np.arange(0, 16))
    ax.set_xticklabels(['00'] * 16, fontsize=3.6)
    ax.set_xticks(np.arange(0, 15.01, 0.25), minor=True)
    ax.tick_params(axis='x', which='major', length=0, pad=1.2)
    ax.tick_params(axis='x', which='minor', length=3, width=0.8, color='#a8a8a8')

    ax.spines['top'].set_visible(False)
    ax.spines['left'].set_linewidth(0.8)
    ax.spines['bottom'].set_linewidth(0.8)
    ax.spines['right'].set_color('#555555')
    ax.spines['right'].set_linewidth(1.3)

    trans = mtransforms.blended_transform_factory(ax.transData, ax.transAxes)
    for i, name in enumerate(day_names):
        ax.text(i + 0.5, -0.068, name, transform=trans, ha='center', va='center', fontsize=5.8)
    ax.text(0.5, -0.158, 'Dag', transform=ax.transAxes, ha='center', va='baseline',
            fontsize=8, fontweight='bold')
    ax.text(1.042, -0.132, 'Bron:  ECMWF/KNMI', transform=ax.transAxes, ha='right', va='center',
            fontsize=4.8, fontweight='bold', color='#1a1aff')
    ax.set_ylabel(ylabel, fontsize=8.5, fontweight='bold')
    ax.yaxis.set_label_coords(-0.046, 0.5)
    ax.set_title(title, fontsize=8, fontweight='bold', pad=3.5)
    ax.text(0.982, 0.975, 'De Bilt\n' + var, transform=ax.transAxes, ha='right', va='top',
            multialignment='center', fontsize=7, linespacing=1.35, zorder=8)
    ax.legend(loc='upper left', fontsize=5.2, frameon=False, handlelength=3.3,
              handletextpad=1.5, labelspacing=0.1, borderaxespad=0.3, borderpad=0.2)


ax1 = axes_px(32.3, 17.7, 358.3, 155.7)
panel(ax1, precip_members, precip_control, precip_oper, precip_mean, 0, 20, 5, 'mm',
      'Neerslag/6 uur', dotted=(15,))

ax2 = axes_px(420.3, 17.7, 746.3, 155.7)
panel(ax2, accum_members, accum_control, accum_oper, accum_mean, 0, 60, 10, 'mm',
      'Accum Neerslag')

ax3 = axes_px(32.3, 201.7, 358.3, 339.7)
panel(ax3, wind_members, wind_control, wind_oper, wind_mean, 0, 20, 5, 'm/s',
      '10m wind', dotted=(10.8, 13.9, 17.2))

ax4 = axes_px(420.3, 201.7, 746.3, 339.7)
panel(ax4, gust_members, gust_control, gust_oper, gust_mean, 0, 30, 5, 'm/s',
      'Windstoten', dotted=(20, 25), magenta=28.5)

ax5 = axes_px(32.3, 385.7, 358.3, 524.7)
panel(ax5, t2m_members, t2m_control, t2m_oper, t2m_mean, -5, 25, 5, 'Celsius',
      'T2m', zero_line=True)

ax6 = axes_px(420.3, 385.7, 746.3, 523.7)
panel(ax6, snow_members, snow_control, snow_oper, snow_mean, 0, 5, 1, 'cm',
      'Sneeuwval/6 uur')

# panel frames
sep = dict(color='#2020e0', lw=1.0, transform=fig.transFigure)
fig.add_artist(Line2D([390 / W, 390 / W], [0, 1], **sep))
fig.add_artist(Line2D([0, 1], [1 - 184 / H, 1 - 184 / H], **sep))
fig.add_artist(Line2D([0, 1], [1 - 368 / H, 1 - 368 / H], **sep))
fig.add_artist(Rectangle((0, 0), 1, 1, transform=fig.transFigure, fill=False,
                         edgecolor='#a0a0ff', lw=2.5))

fig.savefig('out.png', dpi=100)
